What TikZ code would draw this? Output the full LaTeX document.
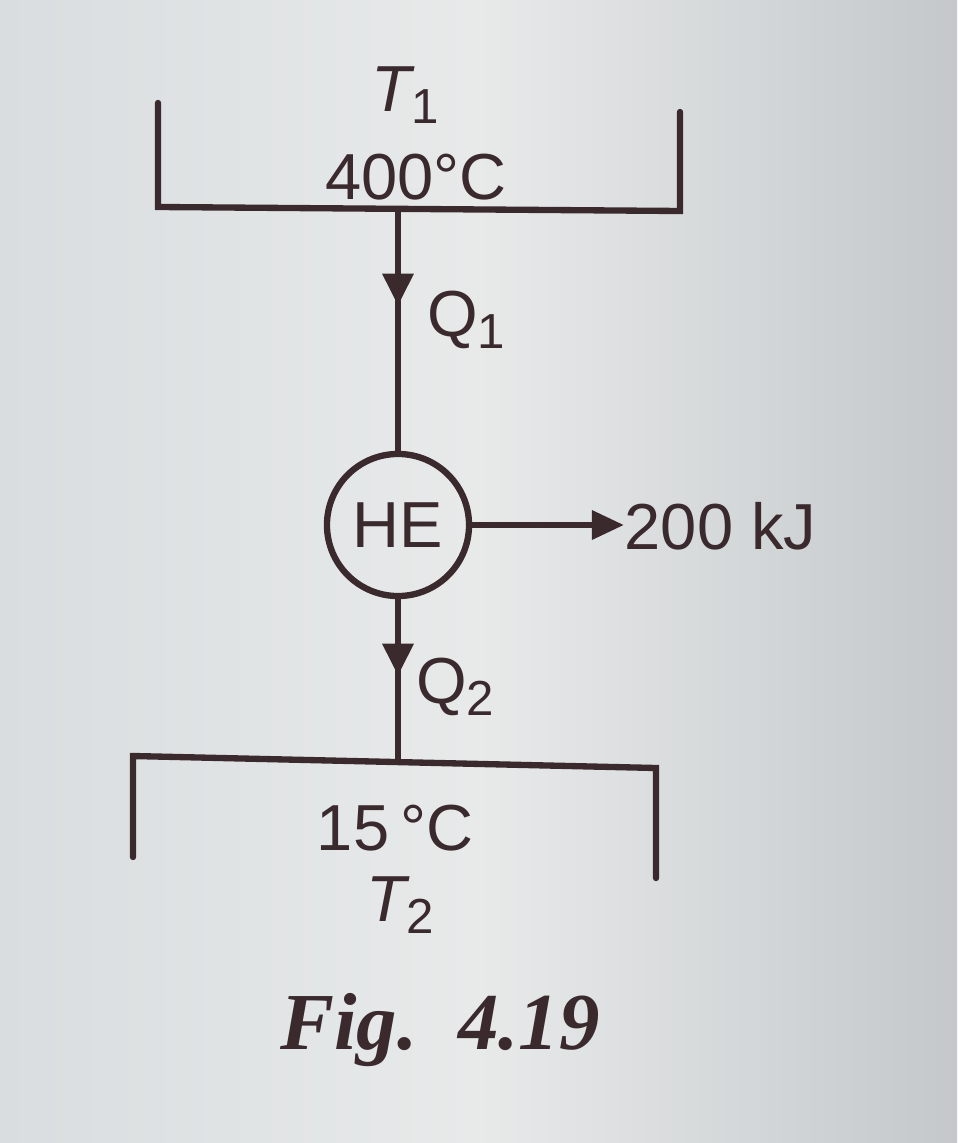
\documentclass[tikz,border=0pt]{standalone}
\usepackage{fontspec}
\setmainfont{Liberation Sans}
\newfontfamily\capfont{Liberation Serif}
\usetikzlibrary{arrows.meta,decorations.markings}
\definecolor{ink}{HTML}{3A2A2E}
\definecolor{paperL}{HTML}{D9DDDF}
\definecolor{paperM}{HTML}{E8EAEA}
\definecolor{paperR}{HTML}{C4C8CA}
\tikzset{
  wall/.style={draw=ink, line width=1.8pt, line cap=round, line join=miter},
  flow/.style={draw=ink, line width=1.8pt,
    postaction={decorate},
    decoration={markings, mark=at position #1 with {\arrow{Triangle[length=0.32cm,width=0.3cm]}}}},
  lbl/.style={text=ink, font=\fontsize{18.5}{20}\selectfont, inner sep=0pt},
  engine/.style={circle, draw=ink, line width=1.8pt, minimum size=1.42cm, inner sep=0pt, text=ink, font=\fontsize{18.5}{20}\selectfont},
  work/.style={draw=ink, line width=1.8pt, -{Triangle[length=0.32cm,width=0.28cm]}}
}
\begin{document}
\begin{tikzpicture}[x=0.01cm,y=-0.01cm]
  \useasboundingbox (0,0) rectangle (957,1143);
  \shade[left color=paperL, right color=paperR, middle color=paperM] (0,0) rectangle (957,1143);
  % top reservoir
  \coordinate (t1) at (158,103);
  \coordinate (t2) at (158,207);
  \coordinate (t3) at (680,211);
  \coordinate (t4) at (680,112);
  \coordinate (ts) at (400,209);
  \draw[wall] (t1) -- (t2) -- (t3) -- (t4);
  \node[lbl] (T1) at (405,95) {\itshape T\raisebox{-0.35ex}{\upshape\fontsize{14}{16}\selectfont 1}};
  \node[lbl] (hot) at (416,177) {400°C};
  % heat engine
  \node[engine] (he) at (398,525) {HE};
  \draw[flow=0.40] (he.north |- ts) -- (he.north);
  \node[lbl] (Q1) at (466,320) {Q\raisebox{-0.35ex}{\fontsize{14}{16}\selectfont 1}};
  % work
  \node[lbl, anchor=west] (W) at (624,526) {200 kJ};
  \draw[work] (he.east) -- (W.west |- he.east);
  % bottom reservoir
  \coordinate (b1) at (133,857);
  \coordinate (b2) at (133,756);
  \coordinate (b3) at (656,768);
  \coordinate (b4) at (656,878);
  \coordinate (bs) at (398,762);
  \draw[wall] (b1) -- (b2) -- (b3) -- (b4);
  \draw[flow=0.47] (he.south) -- (bs);
  \node[lbl] (Q2) at (455,687) {Q\raisebox{-0.35ex}{\fontsize{14}{16}\selectfont 2}};
  \node[lbl] (cold) at (395,828) {15\,°C};
  \node[lbl] (T2) at (400,905) {\itshape T\raisebox{-0.35ex}{\upshape\fontsize{14}{16}\selectfont 2}};
  % caption
  \node[text=ink, font=\capfont\bfseries\itshape\fontsize{23}{26}\selectfont] (cap) at (440,1030) {Fig.\ \ 4.19};
\end{tikzpicture}
\end{document}
